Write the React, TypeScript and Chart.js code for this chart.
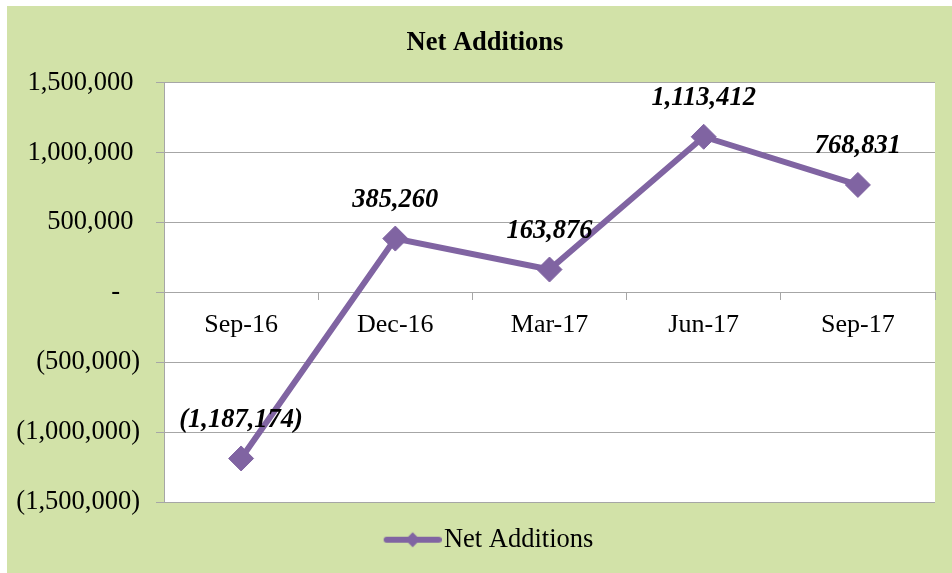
import React, { useEffect, useRef } from "react";
import { Chart, registerables } from "chart.js";

Chart.register(...registerables);

// ---- data ----
const chartTitle = "Net Additions";
const seriesName = "Net Additions";
const categories = ["Sep-16", "Dec-16", "Mar-17", "Jun-17", "Sep-17"];
const netAdditions = [-1187174, 385260, 163876, 1113412, 768831];
const yTickValues = [-1500000, -1000000, -500000, 0, 500000, 1000000, 1500000];

// ---- style ----
const PURPLE = "#8064A2";
const GREEN = "#D2E2A8";
const GRID = "#A6A6A6";
const FONT = "'Liberation Serif', 'Times New Roman', serif";

const CANVAS_W = 956;
const CANVAS_H = 567;

const fmtNum = (v: number) =>
  v < 0 ? `(${Math.abs(v).toLocaleString("en-US")})` : v.toLocaleString("en-US");
const fmtTick = (v: number) => (v === 0 ? "-   " : v < 0 ? fmtNum(v) : fmtNum(v) + " ");

function makeLegendIcon(): HTMLCanvasElement {
  const W = 76;
  const H = 20;
  const c = document.createElement("canvas");
  c.width = W;
  c.height = H;
  const g = c.getContext("2d")!;
  const x0 = W - 58;
  const x1 = W;
  const cy = H / 2;
  g.strokeStyle = PURPLE;
  g.lineWidth = 6;
  g.lineCap = "round";
  g.beginPath();
  g.moveTo(x0 + 3, cy);
  g.lineTo(x1 - 3, cy);
  g.stroke();
  const cx = (x0 + x1) / 2;
  const r = 7.5;
  g.fillStyle = PURPLE;
  g.beginPath();
  g.moveTo(cx - r, cy);
  g.lineTo(cx, cy - r);
  g.lineTo(cx + r, cy);
  g.lineTo(cx, cy + r);
  g.closePath();
  g.fill();
  return c;
}

const dataLabelPlugin = {
  id: "dataLabelPlugin",
  afterDatasetsDraw(chart: any) {
    const ctx = chart.ctx as CanvasRenderingContext2D;
    const meta = chart.getDatasetMeta(0);
    const values = chart.data.datasets[0].data as number[];
    ctx.save();
    ctx.font = `italic bold 26.5px ${FONT}`;
    ctx.fillStyle = "#000";
    ctx.textAlign = "center";
    ctx.textBaseline = "middle";
    meta.data.forEach((pt: any, i: number) => {
      ctx.fillText(fmtNum(values[i]), pt.x, pt.y - 38.5);
    });
    ctx.restore();
  },
};

function NetAdditionsChart() {
  const ref = useRef<HTMLCanvasElement | null>(null);

  useEffect(() => {
    if (!ref.current) return;
    const icon = makeLegendIcon();
    const chart = new Chart(ref.current, {
      type: "line",
      data: {
        labels: categories,
        datasets: [
          {
            label: seriesName,
            data: netAdditions,
            borderColor: PURPLE,
            backgroundColor: PURPLE,
            borderWidth: 6,
            tension: 0,
            pointStyle: "rectRot",
            pointRadius: 12.5,
            pointHoverRadius: 12.5,
            pointBackgroundColor: PURPLE,
            pointBorderColor: PURPLE,
            pointBorderWidth: 1,
            yAxisID: "y",
          },
        ],
      },
      options: {
        responsive: false,
        animation: false,
        devicePixelRatio: 1,
        layout: { padding: { left: 0, right: 0, top: 0, bottom: 10 } },
        plugins: {
          title: {
            display: true,
            text: chartTitle,
            color: "#000",
            font: { family: FONT, size: 26.5, weight: "bold", lineHeight: 1.2 },
            padding: { top: 21, bottom: 23.9 },
          },
          legend: {
            display: true,
            position: "bottom",
            labels: {
              usePointStyle: true,
              pointStyle: icon as any,
              pointStyleWidth: 54,
              padding: 24.3,
              color: "#000",
              font: { family: FONT, size: 26.5 },
            },
          },
          tooltip: { enabled: false },
        },
        scales: {
          x: {
            type: "category",
            position: { y: 0 } as any,
            offset: true,
            grid: {
              offset: true,
              drawOnChartArea: false,
              drawTicks: true,
              tickLength: 7,
              color: GRID,
            },
            border: { display: true, color: GRID, width: 1 },
            ticks: {
              color: "#000",
              padding: 10,
              maxRotation: 0,
              font: { family: FONT, size: 26, lineHeight: 1.2 },
            },
          },
          y: {
            type: "linear",
            position: "left",
            min: -1500000,
            max: 1500000,
            afterBuildTicks: (scale: any) => {
              scale.ticks = yTickValues.map((v) => ({ value: v }));
            },
            afterFit: (scale: any) => {
              scale.width = 157;
            },
            grid: {
              color: GRID,
              lineWidth: 1,
              drawTicks: true,
              tickLength: 8,
            },
            border: { display: true, color: GRID, width: 1 },
            ticks: {
              color: "#000",
              padding: 16,
              font: { family: FONT, size: 26.5, lineHeight: 1.2 },
              callback: (v: any) => fmtTick(Number(v)),
            },
          },
          // empty right-hand spacer (the source chart is cropped on its right side)
          yRight: {
            type: "linear",
            position: "right",
            min: -1500000,
            max: 1500000,
            grid: { display: false, drawTicks: false },
            border: { display: false },
            ticks: { display: false },
            afterFit: (scale: any) => {
              scale.width = 28;
            },
          },
        },
      },
      plugins: [dataLabelPlugin],
    });
    return () => chart.destroy();
  }, []);

  return (
    <canvas
      ref={ref}
      width={CANVAS_W}
      height={CANVAS_H}
      style={{ display: "block", width: CANVAS_W, height: CANVAS_H }}
    />
  );
}

export default function App() {
  return (
    <div
      style={{
        position: "fixed",
        left: 0,
        top: 0,
        width: 952,
        height: 573,
        overflow: "hidden",
        background: "#fff",
      }}
    >
      <div
        style={{
          position: "absolute",
          left: 7,
          top: 6,
          width: CANVAS_W,
          height: CANVAS_H,
          background: GREEN,
        }}
      >
        <div
          style={{
            position: "absolute",
            left: 157,
            top: 76.7,
            width: 771,
            height: 420,
            background: "#fff",
          }}
        />
        <div style={{ position: "absolute", left: 0, top: 0 }}>
          <NetAdditionsChart />
        </div>
      </div>
    </div>
  );
}
